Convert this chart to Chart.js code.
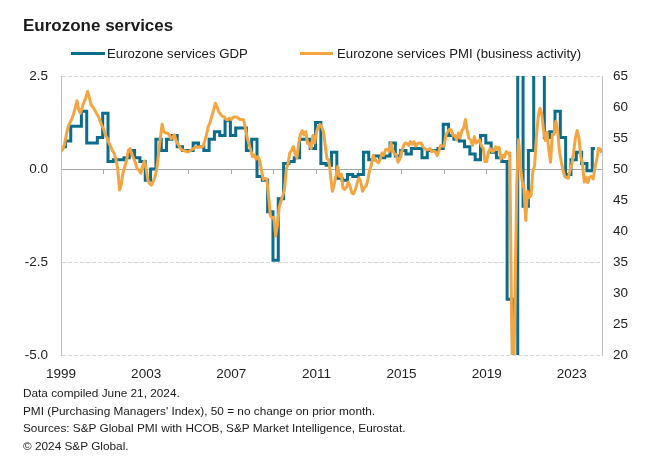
<!DOCTYPE html>
<html>
<head>
<meta charset="utf-8">
<script src="https://cdn.jsdelivr.net/npm/chart.js@4.4.1/dist/chart.umd.min.js"></script>
<style>
  body { margin: 0; background: #fff; }
  #wrap { position: relative; width: 667px; height: 474px; overflow: hidden;
          font-family: "Liberation Sans", Arial, sans-serif; color: #1a1a1a; }
  #chart { position: absolute; left: 0; top: 0; }
  .title { position: absolute; left: 23px; top: 16px; font-size: 17px; font-weight: bold; line-height: 20px; white-space: nowrap; }
  .lg-line { position: absolute; top: 52px; height: 3px; }
  .lg-text { position: absolute; top: 46px; font-size: 13.2px; line-height: 16px; white-space: nowrap; }
  .footer { position: absolute; left: 23px; top: 385px; font-size: 11.8px; line-height: 17.7px; white-space: nowrap; }
</style>
</head>
<body>
<div id="wrap">
  <canvas id="chart" width="667" height="474"></canvas>
  <div class="title">Eurozone services</div>
  <div class="lg-line" style="left:71px;width:34px;background:#0b6c8c"></div>
  <div class="lg-text" style="left:107px">Eurozone services GDP</div>
  <div class="lg-line" style="left:300px;width:33px;background:#f2a540"></div>
  <div class="lg-text" style="left:337px">Eurozone services PMI (business activity)</div>
  <div class="footer">
    Data compiled June 21, 2024.<br>
    PMI (Purchasing Managers' Index), 50 = no change on prior month.<br>
    Sources: S&amp;P Global PMI with HCOB, S&amp;P Market Intelligence, Eurostat.<br>
    &copy; 2024 S&amp;P Global.
  </div>
</div>
<script>
// x axis labels (years), data starts Jan 1999
const xLabels = ['1999', '2003', '2007', '2011', '2015', '2019', '2023'];

// Services GDP, % q/q, 1999 Q1 .. 2024 Q1
const gdp = [
  0.6, 0.75, 1.15, 1.15,
  1.55, 0.7, 0.7, 0.85,
  1.5, 0.2, 0.25, 0.25,
  0.3, 0.5, 0.3, 0.2,
  -0.3, 0.0, 0.8, 0.5,
  0.8, 0.9, 0.6, 0.5,
  0.5, 0.7, 0.6, 0.5,
  0.8, 1.0, 0.9, 1.3,
  0.9, 1.1, 1.1, 0.5,
  0.8, -0.2, -0.3, -1.15,
  -2.45, -0.8, 0.15, 0.2,
  0.3, 0.8, 0.8, 0.55,
  1.25, 0.15, 0.1, 0.45,
  -0.25, -0.3, -0.15, -0.2,
  -0.15, 0.45, 0.25, 0.35,
  0.3, 0.35, 0.7, 0.35,
  0.5, 0.4, 0.55, 0.55,
  0.3, 0.5, 0.5, 0.55,
  1.2, 0.9, 0.8, 0.75,
  0.6, 0.4, 0.25, 0.9,
  0.7, 0.45, 0.3, 0.2,
  -3.5, -11.5, 12.0, -1.0,
  0.5, 3.0, 3.5, 0.85,
  1.0, 1.55, 0.85, -0.15,
  0.25, 0.45, 0.15, -0.05,
  0.55
];

// Services PMI business activity index, Jan 1999 .. Jun 2024
const pmi = [
  52.8, 53.2, 54.0, 55.5, 56.8, 57.5, 58.0, 58.8, 59.8, 61.0, 59.5, 59.0,
  60.0, 60.8, 61.5, 62.5, 61.5, 60.3, 60.0, 59.5, 59.0, 58.5, 57.8, 57.0,
  56.5, 55.5, 55.0, 54.2, 53.6, 53.0, 52.5, 51.5, 50.0, 46.6, 47.5, 49.5,
  50.4, 51.5, 53.0, 53.3, 52.3, 51.7, 51.0, 50.0, 49.8, 49.3, 50.5, 51.3,
  50.0, 48.2, 47.6, 47.4, 48.0, 48.8, 50.0, 52.5, 55.0, 57.2, 56.0, 55.8,
  55.8, 55.5, 54.9, 55.2, 55.5, 54.5, 54.0, 53.5, 53.1, 53.0, 52.9, 52.8,
  52.8, 53.0, 53.2, 53.4, 53.6, 53.5, 53.6, 53.6, 53.6, 54.5, 55.5, 56.8,
  57.5, 58.5, 59.5, 60.6, 60.0, 59.2, 58.8, 58.5, 58.4, 58.0, 57.9, 58.2,
  58.0, 58.3, 58.4, 58.4, 58.2, 58.0, 58.0, 57.9, 56.5, 55.0, 54.0, 53.0,
  52.0, 52.3, 51.6, 52.0, 51.4, 49.8, 48.3, 48.5, 48.4, 45.8, 42.5, 42.1,
  42.2, 39.2, 40.9, 43.8, 44.8, 45.7, 46.7, 49.9, 50.9, 52.6, 53.0, 53.6,
  52.5, 51.8, 54.1, 55.6, 56.2, 55.5, 56.0, 54.1, 54.1, 53.3, 55.4, 54.2,
  55.9, 56.8, 57.2, 56.7, 56.0, 53.7, 51.6, 51.5, 48.8, 46.4, 47.5, 48.8,
  50.4, 48.8, 49.2, 46.9, 46.7, 47.1, 47.9, 47.2, 46.1, 46.0, 46.7, 47.8,
  48.6, 47.9, 46.4, 47.0, 47.2, 48.3, 49.8, 50.7, 52.2, 51.6, 51.2, 51.0,
  51.6, 52.6, 52.2, 53.1, 53.2, 52.8, 54.2, 53.1, 52.4, 52.3, 51.1, 51.6,
  52.7, 53.7, 54.2, 54.1, 53.8, 54.4, 54.0, 54.4, 53.7, 54.1, 54.2, 54.2,
  53.6, 53.3, 53.1, 53.1, 53.3, 52.8, 52.9, 52.8, 52.2, 52.8, 53.8, 53.7,
  53.7, 55.5, 56.0, 56.4, 56.3, 55.4, 55.4, 54.7, 55.8, 55.0, 56.2, 56.6,
  58.0, 56.2, 54.9, 54.7, 53.8, 55.2, 54.2, 54.4, 54.7, 53.7, 53.4, 51.2,
  51.2, 52.8, 53.3, 52.8, 52.9, 53.6, 53.2, 53.5, 51.6, 52.2, 51.9, 52.8,
  52.5, 52.6, 26.4, 12.0, 30.5, 48.3, 54.7, 50.5, 48.0, 46.9, 41.7, 46.4,
  45.4, 45.7, 49.6, 50.5, 55.2, 58.3, 59.8, 59.0, 56.4, 54.6, 55.9, 53.1,
  51.1, 55.5, 55.6, 57.7, 56.1, 53.0, 51.2, 49.8, 48.8, 48.6, 48.5, 49.8,
  50.8, 52.7, 55.0, 56.2, 55.1, 52.0, 50.9, 47.9, 48.7, 47.8, 48.7, 48.8,
  48.4, 50.2, 51.5, 53.3, 53.2, 52.6
];

const tealColor = '#0b6c8c';
const orangeColor = '#f2a540';
const axisFont = { family: '"Liberation Sans", Arial, sans-serif', size: 13.5 };
const lastMonth = 305;

const ctx = document.getElementById('chart').getContext('2d');
new Chart(ctx, {
  type: 'line',
  data: {
    datasets: [{
      label: 'Eurozone services GDP',
      data: gdp.map((v, i) => ({ x: 3 * i + 1, y: v })),
      borderColor: tealColor,
      backgroundColor: tealColor,
      borderWidth: 3,
      pointRadius: 0,
      stepped: 'middle',
      xAxisID: 'x',
      yAxisID: 'y',
      order: 1
    }, {
      label: 'Eurozone services PMI (business activity)',
      data: pmi.map((v, i) => ({ x: i, y: v })),
      borderColor: orangeColor,
      backgroundColor: orangeColor,
      borderWidth: 3,
      borderJoinStyle: 'round',
      pointRadius: 0,
      tension: 0,
      xAxisID: 'x',
      yAxisID: 'y2',
      order: 0
    }]
  },
  options: {
    responsive: false,
    animation: false,
    events: [],
    layout: { padding: { top: 76, bottom: 89, left: 0, right: 0 } },
    plugins: { legend: { display: false }, tooltip: { enabled: false } },
    scales: {
      x: {
        type: 'linear',
        position: 'bottom',
        min: 0,
        max: lastMonth,
        grid: { display: false },
        border: { display: false },
        ticks: {
          font: axisFont, color: '#222', padding: 3, maxRotation: 0, autoSkip: false,
          callback: (v) => String(1999 + v / 12)
        },
        afterBuildTicks: (axis) => {
          axis.ticks = xLabels.map(l => ({ value: (Number(l) - 1999) * 12 }));
        },
        afterFit: (s) => { s.height = 30; }
      },
      x0: {
        axis: 'x',
        type: 'linear',
        position: { y: 0 },
        min: 0,
        max: lastMonth,
        ticks: { display: false, stepSize: 24 },
        grid: { drawOnChartArea: false, drawTicks: true, tickLength: 4, color: '#a6a6a6' },
        border: { display: true, color: '#a6a6a6', width: 1 }
      },
      y: {
        position: 'left',
        min: -5,
        max: 2.5,
        ticks: {
          stepSize: 2.5, font: axisFont, color: '#222', padding: 13,
          callback: (v) => v.toFixed(1)
        },
        grid: { color: '#d9d9d9', drawTicks: false },
        border: { display: true, color: '#bfbfbf', dash: [4, 2] },
        afterFit: (s) => { s.width = 61; }
      },
      y2: {
        position: 'right',
        min: 20,
        max: 65,
        ticks: { stepSize: 5, font: axisFont, color: '#222', padding: 11 },
        grid: { drawOnChartArea: false, drawTicks: false },
        border: { display: true, color: '#bfbfbf' },
        afterFit: (s) => { s.width = 65; }
      }
    }
  }
});
</script>
</body>
</html>
